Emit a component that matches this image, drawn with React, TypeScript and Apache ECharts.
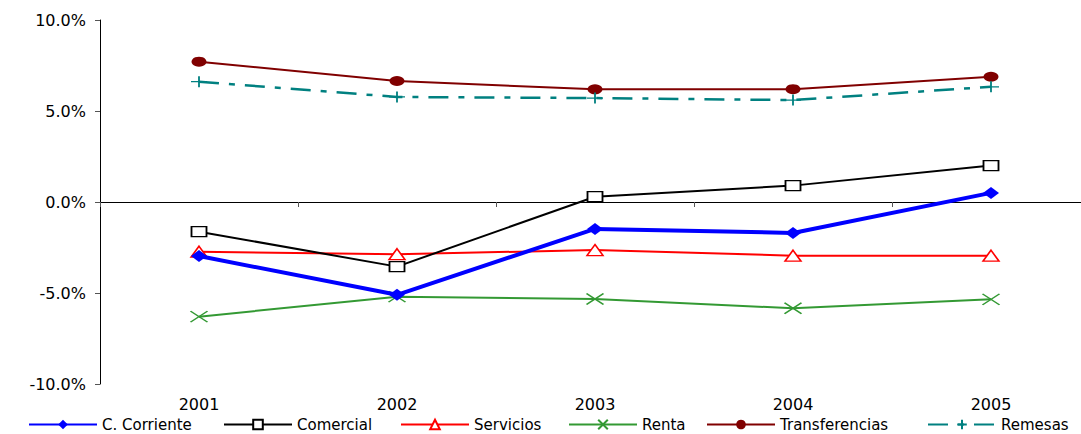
import React, { useEffect, useRef } from "react";
import * as echarts from "echarts";

const years = ["2001", "2002", "2003", "2004", "2005"];
const corriente = [-2.97, -5.1, -1.48, -1.7, 0.5];
const comercial = [-1.63, -3.55, 0.29, 0.9, 2.0];
const servicios = [-2.73, -2.87, -2.64, -2.95, -2.95];
const renta = [-6.3, -5.2, -5.33, -5.84, -5.35];
const transferencias = [7.71, 6.65, 6.19, 6.2, 6.88];
const remesas = [6.61, 5.77, 5.71, 5.6, 6.33];

const seriesNames = ["C. Corriente", "Comercial", "Servicios", "Renta", "Transferencias", "Remesas"];
const legendLefts = [28, 223, 400, 568, 706, 927];

const FONT = "DejaVu Sans";
const XPATH = "path://M0,0 L10,10 M10,0 L0,10";
const PLUSPATH = "path://M5,0 L5,10 M0,5 L10,5";

export default function App() {
  const ref = useRef<HTMLDivElement>(null);
  useEffect(() => {
    if (!ref.current) return;
    const chart = echarts.init(ref.current, null, { renderer: "svg" });
    const mk = (name: string, data: number[], extra: any) => ({
      name,
      type: "line",
      data,
      xAxisIndex: 0,
      symbolKeepAspect: false,
      ...extra,
    });
    chart.setOption({
      animation: false,
      backgroundColor: "#fff",
      textStyle: { fontFamily: FONT },
      grid: { left: 100, right: 0, top: 20, bottom: 50 },
      legend: seriesNames.map((n, i) => ({
        data: [n],
        left: legendLefts[i],
        top: 417,
        padding: 0,
        itemWidth: 68,
        itemHeight: 12,
        itemGap: 5,
        textStyle: { fontFamily: FONT, fontSize: 15, color: "#000" },
      })),
      xAxis: [
        {
          type: "category",
          data: years,
          position: "bottom",
          axisLine: { show: false, onZero: false },
          axisTick: { show: false },
          axisLabel: { fontFamily: FONT, fontSize: 16, color: "#000", margin: 12 },
        },
        {
          type: "category",
          data: years,
          position: "top",
          axisLine: { show: true, onZero: true, lineStyle: { color: "#000", width: 1 } },
          axisTick: { show: true, inside: true, length: 5, lineStyle: { color: "#555" } },
          axisLabel: { show: false },
        },
      ],
      yAxis: {
        type: "value",
        min: -10,
        max: 10,
        interval: 5,
        axisLine: { show: true, lineStyle: { color: "#000", width: 1 } },
        axisTick: { show: true, length: 5, lineStyle: { color: "#555" } },
        splitLine: { show: false },
        axisLabel: {
          fontFamily: FONT,
          fontSize: 16,
          color: "#000",
          margin: 14,
          formatter: (v: number) => v.toFixed(1) + "%",
        },
      },
      series: [
        mk("C. Corriente", corriente, {
          color: "#0000FF",
          symbol: "diamond",
          symbolSize: [16, 12],
          lineStyle: { color: "#0000FF", width: 4 },
          itemStyle: { color: "#0000FF" },
          z: 6,
        }),
        mk("Comercial", comercial, {
          color: "#000",
          symbol: "rect",
          symbolSize: [15, 10],
          lineStyle: { color: "#000", width: 2 },
          itemStyle: { color: "#fff", borderColor: "#000", borderWidth: 1.5 },
          z: 5,
        }),
        mk("Servicios", servicios, {
          color: "#FF0000",
          symbol: "triangle",
          symbolSize: [16, 11],
          lineStyle: { color: "#FF0000", width: 2 },
          itemStyle: { color: "#fff", borderColor: "#FF0000", borderWidth: 1.5 },
          z: 4,
        }),
        mk("Renta", renta, {
          color: "#339933",
          symbol: XPATH,
          symbolSize: [17, 11],
          lineStyle: { color: "#339933", width: 2 },
          itemStyle: { color: "#339933", borderColor: "#339933", borderWidth: 1.5 },
          z: 3,
        }),
        mk("Transferencias", transferencias, {
          color: "#800000",
          symbol: "circle",
          symbolSize: [15, 10],
          lineStyle: { color: "#800000", width: 2 },
          itemStyle: { color: "#800000" },
          z: 3,
        }),
        mk("Remesas", remesas, {
          color: "#008080",
          symbol: PLUSPATH,
          symbolSize: [16, 11],
          lineStyle: { color: "#008080", width: 2.5, type: [20, 10, 6, 10] },
          itemStyle: { color: "#008080", borderColor: "#008080", borderWidth: 1.5 },
          z: 3,
        }),
      ],
    });
    return () => chart.dispose();
  }, []);
  return (
    <div style={{ width: 1081, height: 434, position: "absolute", left: 0, top: 0, overflow: "hidden" }}>
      <div ref={ref} style={{ width: 1090, height: 434 }} />
    </div>
  );
}
